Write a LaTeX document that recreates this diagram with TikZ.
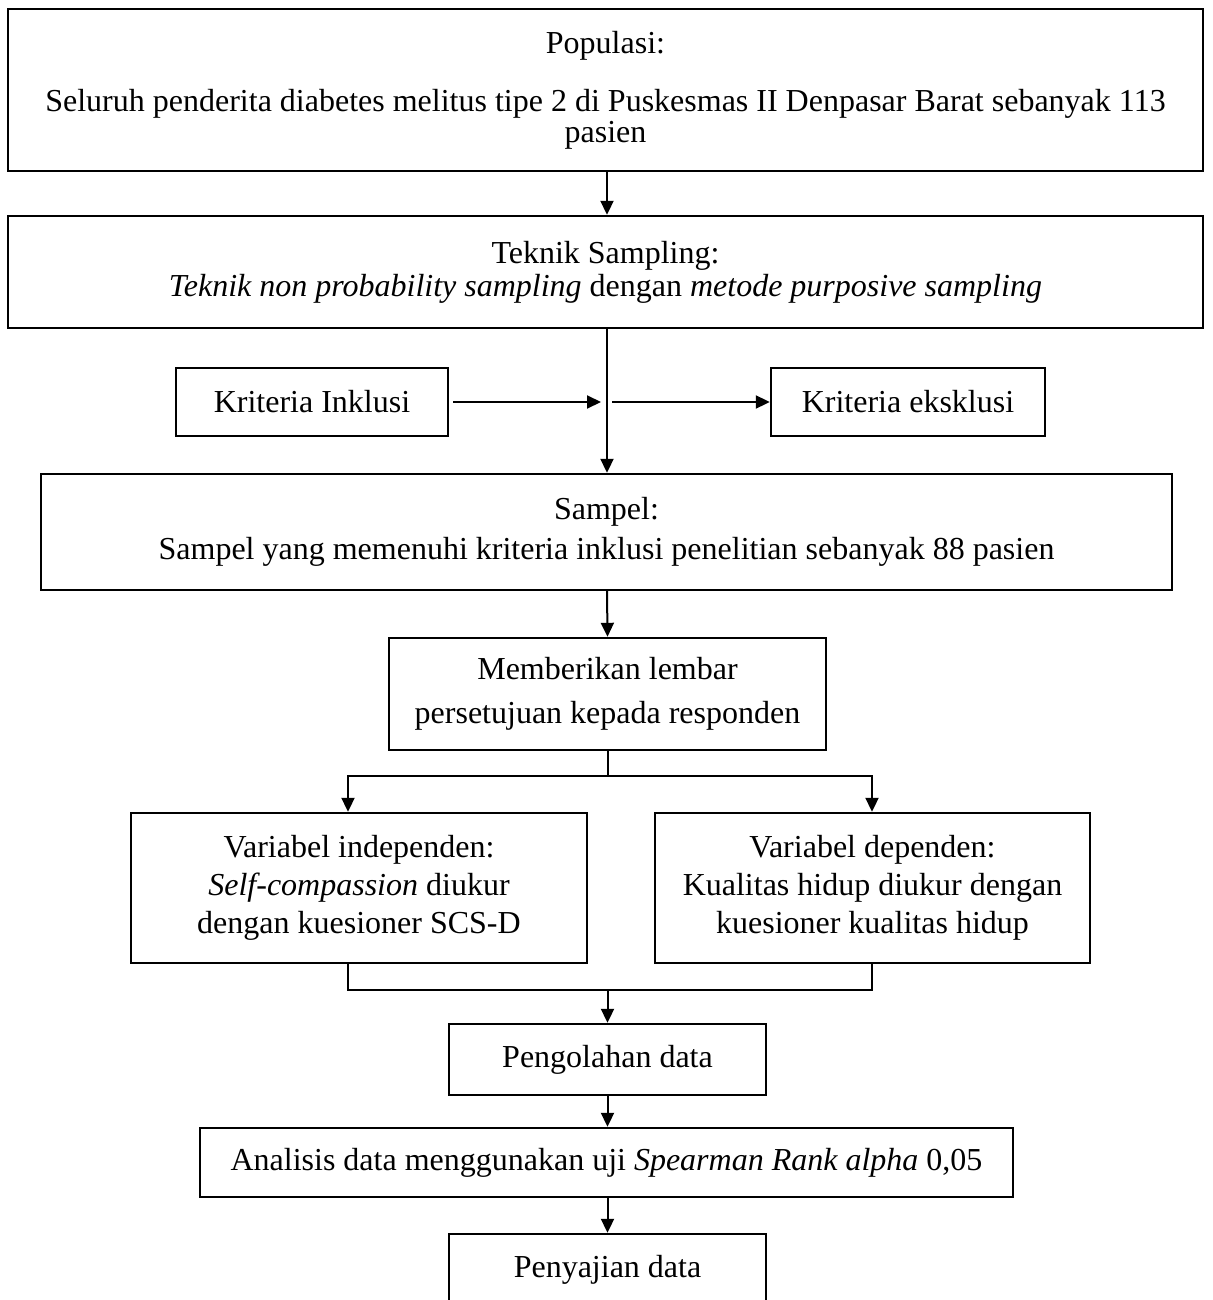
\documentclass[tikz,border=0pt]{standalone}
\usepackage{fontspec}
\setmainfont{Liberation Serif}
\usetikzlibrary{arrows.meta,calc}
\tikzset{
  box/.style={draw, line width=1.2pt, align=center, inner sep=0pt, anchor=center,
              font=\fontsize{16}{19}\selectfont},
  conn/.style={line width=1pt},
  arr/.style={line width=1pt, -{Triangle[length=7pt,width=6.5pt]}},
}
\begin{document}
\begin{tikzpicture}[x=0.5pt,y=-0.5pt]
\clip (0,0) rectangle (1213,1300);
\fill[white] (0,0) rectangle (1213,1300);

\node[box, minimum width=597.5pt, minimum height=81pt, font=\fontsize{16}{15.5}\selectfont] (pop) at (605.5,90)
  {Populasi:\\[13.5pt]Seluruh penderita diabetes melitus tipe 2 di Puskesmas II Denpasar Barat sebanyak 113\\pasien};
\node[box, minimum width=597.5pt, minimum height=56pt, font=\fontsize{16}{16.5}\selectfont] (tek) at (605.5,272)
  {\raisebox{0pt}{Teknik Sampling:}\\\textit{Teknik non probability sampling} dengan \textit{metode purposive sampling}};
\node[box, minimum width=136pt, minimum height=34pt] (inkl) at (312,402) {Kriteria Inklusi};
\node[box, minimum width=137pt, minimum height=34pt] (eks) at (908,402) {Kriteria eksklusi};
\node[box, minimum width=565.5pt, minimum height=58pt, font=\fontsize{16}{20}\selectfont] (sampel) at (606.5,532)
  {Sampel:\\Sampel yang memenuhi kriteria inklusi penelitian sebanyak 88 pasien};
\node[box, minimum width=218.5pt, minimum height=56pt, font=\fontsize{16}{22}\selectfont] (memb) at (607.5,694)
  {Memberikan lembar\\persetujuan kepada responden};
\node[box, minimum width=228pt, minimum height=75pt] (indep) at (359,888)
  {Variabel independen:\\\textit{Self-compassion} diukur\\dengan kuesioner SCS-D};
\node[box, minimum width=217.5pt, minimum height=75pt] (dep) at (872.5,888)
  {Variabel dependen:\\Kualitas hidup diukur dengan\\kuesioner kualitas hidup};
\node[box, minimum width=158.5pt, minimum height=35.5pt] (olah) at (607.5,1059.5) {Pengolahan data};
\node[box, minimum width=406.5pt, minimum height=34.5pt] (anal) at (606.5,1162.5)
  {Analisis data menggunakan uji \textit{Spearman Rank alpha} 0,05};
\node[box, minimum width=158.5pt, minimum height=35.5pt] (saji) at (607.5,1269.5) {Penyajian data};

\coordinate (j) at (607,402);
\coordinate (jl) at (601,402);
\coordinate (jr) at (612,402);
\coordinate (sl) at (348,776);
\coordinate (sr) at (872,776);
\coordinate (ml) at (348,990);
\coordinate (mr) at (872,990);

\draw[arr] (pop.south -| j) -- (tek.north -| j);
\draw[arr] (tek.south -| j) -- (sampel.north -| j);
\draw[arr] ([xshift=2pt]inkl.east) -- (jl);
\draw[arr] (jr) -- (eks.west);
\draw[arr] (sampel.south -| j) -- (memb.north);
\draw[conn] (memb.south) -- (memb.south |- sl);
\draw[arr] (memb.south |- sl) -- (sl) -- (sl |- indep.north);
\draw[arr] (memb.south |- sr) -- (sr) -- (sr |- dep.north);
\draw[conn] (ml |- indep.south) -- (ml) -- (mr) -- (mr |- dep.south);
\draw[arr] (olah.north |- ml) -- (olah.north);
\draw[arr] (olah.south) -- (anal.north -| olah.south);
\draw[arr] (anal.south -| saji.north) -- (saji.north);
\end{tikzpicture}
\end{document}
